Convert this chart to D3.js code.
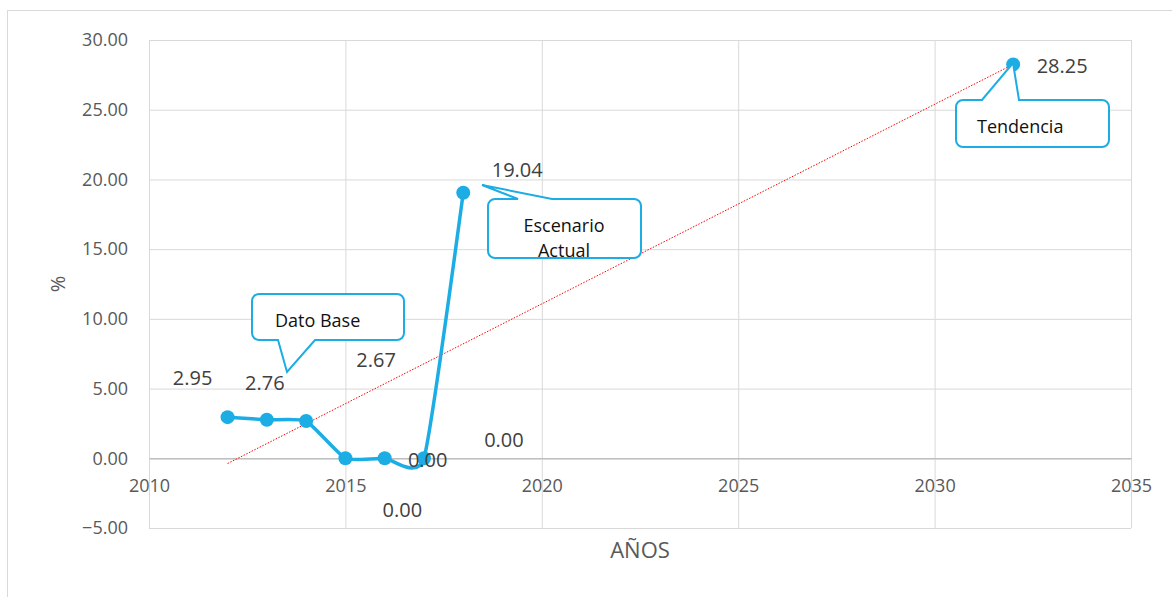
<!DOCTYPE html>
<html>
<head>
<meta charset="utf-8">
<script src="https://cdn.jsdelivr.net/npm/d3@7"></script>
<style>
  body { margin: 0; background: #fff; }
  svg { display: block; font-family: "Open Sans", sans-serif; }
</style>
</head>
<body>
<div id="chart"></div>
<script>
// serie observada
var years = [2012, 2013, 2014, 2015, 2016, 2017, 2018];
var values = [2.95, 2.76, 2.67, 0.00, 0.00, 0.00, 19.04];
var trendYears = [2012, 2032];   // la tendencia se extiende hasta 2032
var xTicks = [2010, 2015, 2020, 2025, 2030, 2035];
var yTicks = [-5, 0, 5, 10, 15, 20, 25, 30];

var W = 1172, H = 597;
var margin = { top: 40, right: 41, bottom: 69, left: 149 },
	width = W - margin.left - margin.right,
	height = H - margin.top - margin.bottom;

var blue = "#1cade4", grey = "#595959";

var svg = d3.select("#chart").append("svg")
	.attr("width", W)
	.attr("height", H);

// borde del area del grafico
svg.append("rect")
	.attr("x", 7.5).attr("y", 10.5)
	.attr("width", W + 20).attr("height", H + 20)
	.style("fill", "none")
	.style("stroke", "#d9d9d9");

var g = svg.append("g")
	.attr("transform", "translate(" + margin.left + "," + margin.top + ")");

var x = d3.scaleLinear().domain([2010, 2035]).range([0, width]);
var y = d3.scaleLinear().domain([-5, 30]).range([height, 0]);

// regresion lineal (linea de tendencia)
var mx = d3.mean(years), my = d3.mean(values);
var slope = d3.sum(years, function(d, i) { return (d - mx) * (values[i] - my); }) /
	d3.sum(years, function(d) { return (d - mx) * (d - mx); });
function trend(t) { return my + slope * (t - mx); }
var trendEnd = trendYears[1];
var trendValue = trend(trendEnd);

// cuadricula horizontal + etiquetas Y
g.append("g")
	.attr("class", "y axis")
	.call(d3.axisLeft(y).tickValues(yTicks).tickSize(-width).tickPadding(21)
		.tickFormat(d3.format(".2f")))
	.call(function(s) {
		s.select(".domain").remove();
		s.selectAll("line").style("stroke", "#d9d9d9");
		s.selectAll("text").style("fill", grey).style("font-size", "18px")
			.style("font-family", "Open Sans");
	});

// cuadricula vertical
g.append("g")
	.attr("transform", "translate(0," + height + ")")
	.call(d3.axisBottom(x).tickValues(xTicks).tickSize(-height).tickFormat(""))
	.call(function(s) {
		s.select(".domain").remove();
		s.selectAll("line").style("stroke", "#d9d9d9");
	});

// eje X en el cero
g.append("g")
	.attr("class", "x axis")
	.attr("transform", "translate(0," + y(0) + ")")
	.call(d3.axisBottom(x).tickValues(xTicks).tickSize(0).tickPadding(21)
		.tickFormat(d3.format("d")))
	.call(function(s) {
		s.select(".domain").style("stroke", "#bfbfbf").style("stroke-width", 1.5);
		s.selectAll("text").style("fill", grey).style("font-size", "18px")
			.style("font-family", "Open Sans");
	});

// titulos de ejes
svg.append("text")
	.attr("x", 640).attr("y", 558)
	.attr("text-anchor", "middle")
	.style("font-size", "22px").style("fill", grey)
	.text("AÑOS");

svg.append("text")
	.attr("transform", "translate(65,284) rotate(-90)")
	.attr("text-anchor", "middle")
	.style("font-size", "20px").style("fill", grey)
	.text("%");

// linea de tendencia
g.append("line")
	.attr("x1", x(trendYears[0])).attr("y1", y(trend(trendYears[0])))
	.attr("x2", x(trendEnd)).attr("y2", y(trendValue))
	.style("stroke", "#ff0000")
	.style("stroke-width", 1)
	.style("stroke-dasharray", "1.5,1.5");

// serie suavizada
var pts = years.map(function(d, i) { return [d, values[i]]; });
var line = d3.line()
	.x(function(d) { return x(d[0]); })
	.y(function(d) { return y(d[1]); })
	.curve(d3.curveCardinal.tension(0.5));

g.append("path")
	.datum(pts)
	.attr("d", line)
	.style("fill", "none")
	.style("stroke", blue)
	.style("stroke-width", 3.5)
	.style("stroke-linejoin", "round");

// llamadas (callouts)
function callout(b, side, a, c, tx, ty) {
	var r = 7, p = "M" + (b[0] + r) + "," + b[1];
	if (side == "top") p += "L" + a + "," + b[1] + "L" + tx + "," + ty + "L" + c + "," + b[1];
	p += "L" + (b[2] - r) + "," + b[1] + "A" + r + "," + r + " 0 0 1 " + b[2] + "," + (b[1] + r);
	p += "L" + b[2] + "," + (b[3] - r) + "A" + r + "," + r + " 0 0 1 " + (b[2] - r) + "," + b[3];
	if (side == "bottom") p += "L" + c + "," + b[3] + "L" + tx + "," + ty + "L" + a + "," + b[3];
	p += "L" + (b[0] + r) + "," + b[3] + "A" + r + "," + r + " 0 0 1 " + b[0] + "," + (b[3] - r);
	p += "L" + b[0] + "," + (b[1] + r) + "A" + r + "," + r + " 0 0 1 " + (b[0] + r) + "," + b[1] + "Z";
	return p;
}

var callouts = [
	{ box: [252, 294, 404, 340], side: "bottom", a: 278, c: 315, tip: [287, 372],
		lines: ["Dato Base"], tx: 275, ty: [327], anchor: "start" },
	{ box: [488, 199, 641, 258], side: "top", a: 518, c: 552, tip: [482, 185],
		lines: ["Escenario", "Actual"], tx: 564, ty: [232, 257], anchor: "middle" },
	{ box: [956, 100, 1109, 147], side: "top", a: 982, c: 1019, tip: [1013, 63],
		lines: ["Tendencia"], tx: 977, ty: [133], anchor: "start" }
];

callouts.forEach(function(d) {
	svg.append("path")
		.attr("d", callout(d.box, d.side, d.a, d.c, d.tip[0], d.tip[1]))
		.style("fill", "#fff")
		.style("stroke", blue)
		.style("stroke-width", 2);
	d.lines.forEach(function(t, i) {
		svg.append("text")
			.attr("x", d.tx).attr("y", d.ty[i])
			.attr("text-anchor", d.anchor)
			.style("font-size", "18px").style("fill", "#111")
			.text(t);
	});
});

// marcadores
var markers = pts.concat([[trendEnd, trendValue]]);
g.selectAll("circle.pt")
	.data(markers)
	.enter().append("circle")
	.attr("class", "pt")
	.attr("cx", function(d) { return x(d[0]); })
	.attr("cy", function(d) { return y(d[1]); })
	.attr("r", 7)
	.style("fill", blue);

// etiquetas de datos (desplazadas a mano como en el original)
var labelShift = [[-35, -39], [-2, -37], [70, -61], [57, 52], [43, 2], [80, -18], [54, -23], [49, 1]];
g.selectAll("text.lbl")
	.data(markers)
	.enter().append("text")
	.attr("class", "lbl")
	.attr("x", function(d, i) { return x(d[0]) + labelShift[i][0]; })
	.attr("y", function(d, i) { return y(d[1]) + labelShift[i][1]; })
	.attr("dy", "0.36em")
	.attr("text-anchor", "middle")
	.style("font-size", "20px")
	.style("fill", "#404040")
	.text(function(d) { return d3.format(".2f")(d[1]); });
</script>
</body>
</html>
